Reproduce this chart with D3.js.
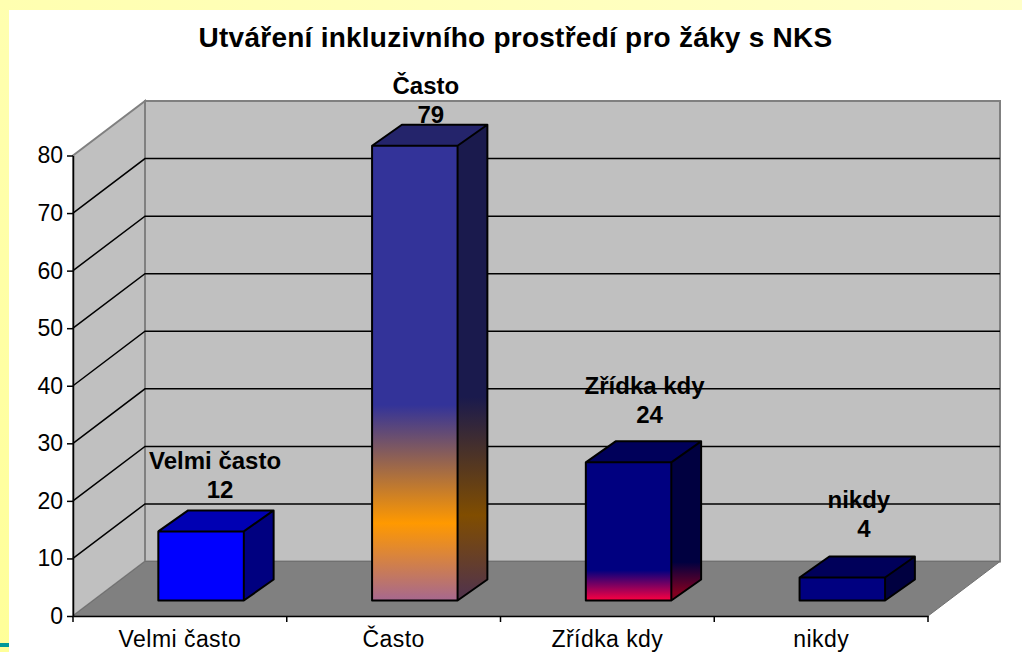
<!DOCTYPE html>
<html>
<head>
<meta charset="utf-8">
<script src="https://d3js.org/d3.v7.min.js"></script>
<style>
  html, body { margin: 0; padding: 0; background: #fff; }
  svg { display: block; }
  text { font-family: "Liberation Sans", Arial, sans-serif; fill: #000; }
</style>
</head>
<body>
<div id="chart"></div>
<script>
var chartTitle = "Utváření inkluzivního prostředí pro žáky s NKS";
var categories = ["Velmi často", "Často", "Zřídka kdy", "nikdy"];
var values = [12, 79, 24, 4];
var yTicks = [0, 10, 20, 30, 40, 50, 60, 70, 80];

// gradient stops per bar, top to bottom
var barStops = [
  [[0, "#0000ff"], [1, "#0000ff"]],
  [[0, "#333399"], [0.57, "#333399"], [0.83, "#ff9900"], [1, "#a6688f"]],
  [[0, "#000080"], [0.78, "#000080"], [1, "#ff0040"]],
  [[0, "#000080"], [1, "#000080"]]
];

var width = 1022,
  height = 652;

var x0 = 73, x1 = 928,
  yBottom = 616, yTop = 155.5,
  depthX = 72, depthY = -54.5;

var x = d3.scaleBand().domain(categories).range([x0, x1]).paddingInner(0).paddingOuter(0);
var y = d3.scaleLinear().domain([0, 80]).range([yBottom, yTop]);

var svg = d3.select("#chart").append("svg")
  .attr("width", width)
  .attr("height", height);

var defs = svg.append("defs");

// page background, the yellow band is slightly shaded
var bandTop = defs.append("linearGradient").attr("id", "bandTop");
bandTop.append("stop").attr("offset", 0).attr("stop-color", "#ffffb0");
bandTop.append("stop").attr("offset", 1).attr("stop-color", "#ffffc8");
var bandLeft = defs.append("linearGradient").attr("id", "bandLeft").attr("x2", 0).attr("y2", 1);
bandLeft.append("stop").attr("offset", 0).attr("stop-color", "#ffffb0");
bandLeft.append("stop").attr("offset", 1).attr("stop-color", "#ffff99");

svg.append("rect").attr("width", width).attr("height", height).attr("fill", "#fff");
svg.append("rect").attr("width", width).attr("height", 10).attr("fill", "url(#bandTop)");
svg.append("rect").attr("width", 9).attr("height", height).attr("fill", "url(#bandLeft)");
svg.append("rect").attr("x", 0).attr("y", 643).attr("width", 9).attr("height", 4).attr("fill", "#009999");

function pts(a) {
  return a.map(function(p) { return p.join(","); }).join(" ");
}

// floor and walls
svg.append("polygon")
  .attr("points", pts([[x0, y(80)], [x0 + depthX, y(80) + depthY], [x0 + depthX, y(0) + depthY], [x0, y(0)]]))
  .attr("fill", "#c0c0c0").attr("stroke", "#808080").attr("stroke-width", 2);
svg.append("rect")
  .attr("x", x0 + depthX).attr("y", y(80) + depthY)
  .attr("width", x1 - x0).attr("height", y(0) - y(80))
  .attr("fill", "#c0c0c0").attr("stroke", "#808080").attr("stroke-width", 2);
svg.append("polygon")
  .attr("points", pts([[x0, y(0)], [x0 + depthX, y(0) + depthY], [x1 + depthX, y(0) + depthY], [x1, y(0)]]))
  .attr("fill", "#808080").attr("stroke", "#707070").attr("stroke-width", 1);

// gridlines
var grid = yTicks.filter(function(d) { return d > 0 && d < 80; });
svg.append("g").selectAll("path")
  .data(grid)
  .enter().append("path")
  .attr("fill", "none")
  .attr("stroke", "#000")
  .attr("stroke-width", 1.5)
  .attr("d", function(d) {
    return "M" + x0 + "," + y(d) + "L" + (x0 + depthX) + "," + (y(d) + depthY) + "H" + (x1 + depthX);
  });

// axes
var yAxis = svg.append("g")
  .attr("transform", "translate(" + x0 + ",0)")
  .call(d3.axisLeft(y).tickValues(yTicks).tickSize(6).tickPadding(4).tickSizeOuter(0));
yAxis.selectAll("text").attr("font-size", 23).style("font-family", '"Liberation Sans", Arial, sans-serif');
yAxis.selectAll("line, path").attr("stroke", "#000").attr("stroke-width", 1.5);

// labels kept a little higher than the original so the descenders fit the page
var xAxis = svg.append("g")
  .attr("transform", "translate(0," + yBottom + ")")
  .call(d3.axisBottom(x).tickSize(0).tickPadding(14.5));
xAxis.select("path").attr("stroke", "#000").attr("stroke-width", 1.5);
xAxis.selectAll("text")
  .attr("font-size", 23)
  .attr("letter-spacing", 0.45)
  .style("font-family", '"Liberation Sans", Arial, sans-serif');
svg.append("g").selectAll("line")
  .data(d3.range(categories.length + 1))
  .enter().append("line")
  .attr("x1", function(i) { return x0 + i * x.step(); })
  .attr("x2", function(i) { return x0 + i * x.step(); })
  .attr("y1", yBottom)
  .attr("y2", yBottom + 6)
  .attr("stroke", "#000")
  .attr("stroke-width", 1.5);

// bars
var barW = 0.4 * x.step(),
  barInset = 0.3 * x.step() + 21.2,
  barDrop = 15.5,
  barDX = 29.8,
  barDY = -21;

function makeGradient(id, i, shade, shift) {
  var g = defs.append("linearGradient")
    .attr("id", id)
    .attr("gradientUnits", "userSpaceOnUse")
    .attr("x1", 0).attr("x2", 0)
    .attr("y1", y(values[i]) - barDrop - shift)
    .attr("y2", yBottom - barDrop - shift);
  barStops[i].forEach(function(s) {
    g.append("stop")
      .attr("offset", s[0])
      .attr("stop-color", d3.interpolateRgb(s[1], "#000")(shade));
  });
}

var bars = svg.append("g").selectAll("g")
  .data(values)
  .enter().append("g");

bars.each(function(v, i) {
  var g = d3.select(this);
  var left = x(categories[i]) + barInset,
    right = left + barW,
    top = y(v) - barDrop,
    bottom = yBottom - barDrop;

  makeGradient("front" + i, i, 0, 0);
  makeGradient("side" + i, i, 0.5, 8);

  g.append("rect")
    .attr("x", left).attr("y", top)
    .attr("width", barW).attr("height", bottom - top)
    .attr("fill", "url(#front" + i + ")");
  g.append("polygon")
    .attr("points", pts([[right, top], [right + barDX, top + barDY], [right + barDX, bottom + barDY], [right, bottom]]))
    .attr("fill", "url(#side" + i + ")");
  g.append("polygon")
    .attr("points", pts([[left, top], [left + barDX, top + barDY], [right + barDX, top + barDY], [right, top]]))
    .attr("fill", d3.interpolateRgb(barStops[i][0][1], "#000")(0.3));

  // outlines
  g.append("path")
    .attr("fill", "none")
    .attr("stroke", "#000")
    .attr("stroke-width", 2)
    .attr("stroke-linejoin", "round")
    .attr("d", "M" + left + "," + top + "H" + right + "V" + bottom + "H" + left + "Z"
      + "M" + left + "," + top + "l" + barDX + "," + barDY + "H" + (right + barDX) + "L" + right + "," + top
      + "M" + (right + barDX) + "," + (top + barDY) + "V" + (bottom + barDY) + "L" + right + "," + bottom);
});

// data labels sit over the gridlines, offsets differ per bar
var labelLift = [33, 22.5, 39, 40];
var labelShift = [0, -3, 2, 2.5];

var labels = svg.append("g").selectAll("g")
  .data(values)
  .enter().append("g")
  .attr("font-size", 24)
  .attr("font-weight", "bold")
  .attr("text-anchor", "middle");

labels.append("text")
  .attr("x", function(d, i) { return x(categories[i]) + barInset + barW / 2 + 14 + labelShift[i]; })
  .attr("y", function(d, i) { return y(d) - barDrop - labelLift[i] - 29.5; })
  .text(function(d, i) { return categories[i]; });

labels.append("text")
  .attr("x", function(d, i) { return x(categories[i]) + barInset + barW / 2 + 19 + labelShift[i]; })
  .attr("y", function(d, i) { return y(d) - barDrop - labelLift[i]; })
  .text(function(d) { return d; });

svg.append("text")
  .attr("x", 515.5)
  .attr("y", 46.5)
  .attr("text-anchor", "middle")
  .attr("font-size", 28)
  .attr("letter-spacing", 0.25)
  .attr("font-weight", "bold")
  .text(chartTitle);
</script>
</body>
</html>
